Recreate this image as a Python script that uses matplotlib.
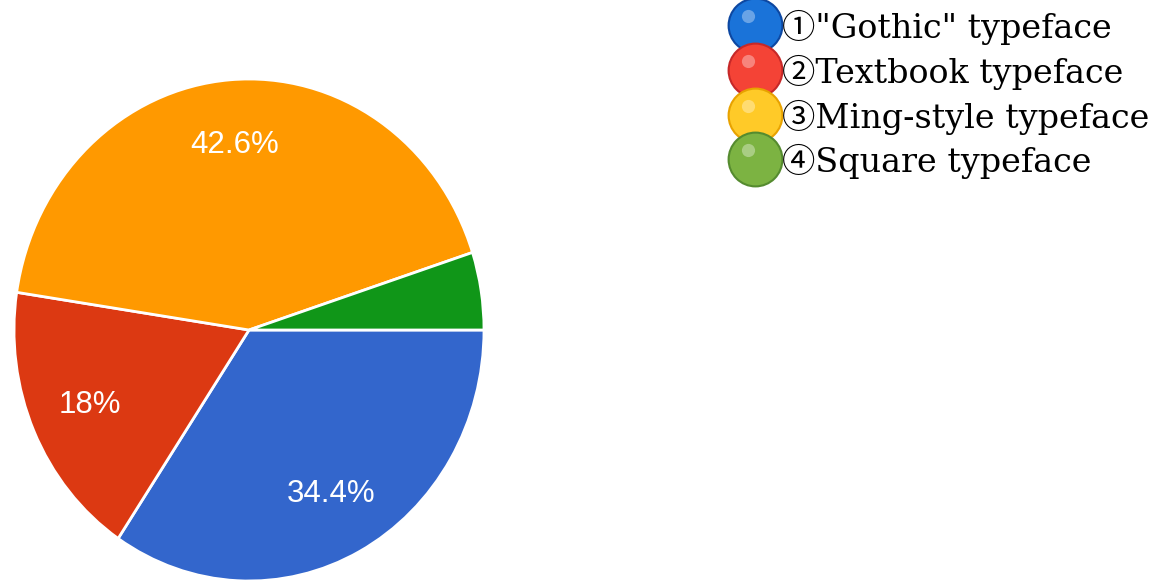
import matplotlib
matplotlib.use("Agg")
import matplotlib.pyplot as plt
import numpy as np

# survey shares per typeface
labels = ['①"Gothic" typeface', '②Textbook typeface', '③Ming-style typeface', '④Square typeface']
shares = [34.4, 18.0, 42.6, 5.0]
pct_text = ['34.4%', '18%', '42.6%', '']
wedge_colors = ['#3366CC', '#DC3912', '#FF9900', '#109618']
dot_colors = ['#1A73D9', '#F44336', '#FFCA28', '#7CB342']
dot_edges = ['#0D47A1', '#C62828', '#E8A200', '#558B2F']

W, H = 1159, 583
fig = plt.figure(figsize=(W / 100, H / 100), dpi=100)

# pie is slightly stretched vertically: 470 px wide, 502 px tall
ax = fig.add_axes([14 / W, 2 / H, 470 / W, 502 / H])
wedges, _ = ax.pie(shares, colors=wedge_colors, startangle=0, counterclock=False,
                   wedgeprops=dict(edgecolor='white', linewidth=2))
ax.set_xlim(-1, 1)
ax.set_ylim(-1, 1)
ax.set_aspect('auto')

start = 0.0
for s, t in zip(shares, pct_text):
    mid = np.deg2rad(-(start + s * 3.6 / 2))
    start += s * 3.6
    if t:
        ax.text(0.74 * np.cos(mid), 0.74 * np.sin(mid), t, color='white',
                fontsize=22.5, family='Liberation Sans', ha='center', va='center')

# legend with round colour dots
lg = fig.add_axes([0, 0, 1, 1])
lg.set_xlim(0, W)
lg.set_ylim(H, 0)
lg.axis('off')
ys = [25, 70, 115, 159]
for y, lab, c, e in zip(ys, labels, dot_colors, dot_edges):
    lg.scatter([755], [y], s=1500, color=c, edgecolor=e, linewidth=1.5)
    lg.scatter([748], [y - 9], s=90, marker='o', color='white', alpha=0.35, linewidth=0)
    lg.text(782, y + 2, lab, fontsize=24, va='center', ha='left',
            family=['DejaVu Serif', 'Noto Sans CJK JP'])

fig.savefig('out.png', dpi=100)
